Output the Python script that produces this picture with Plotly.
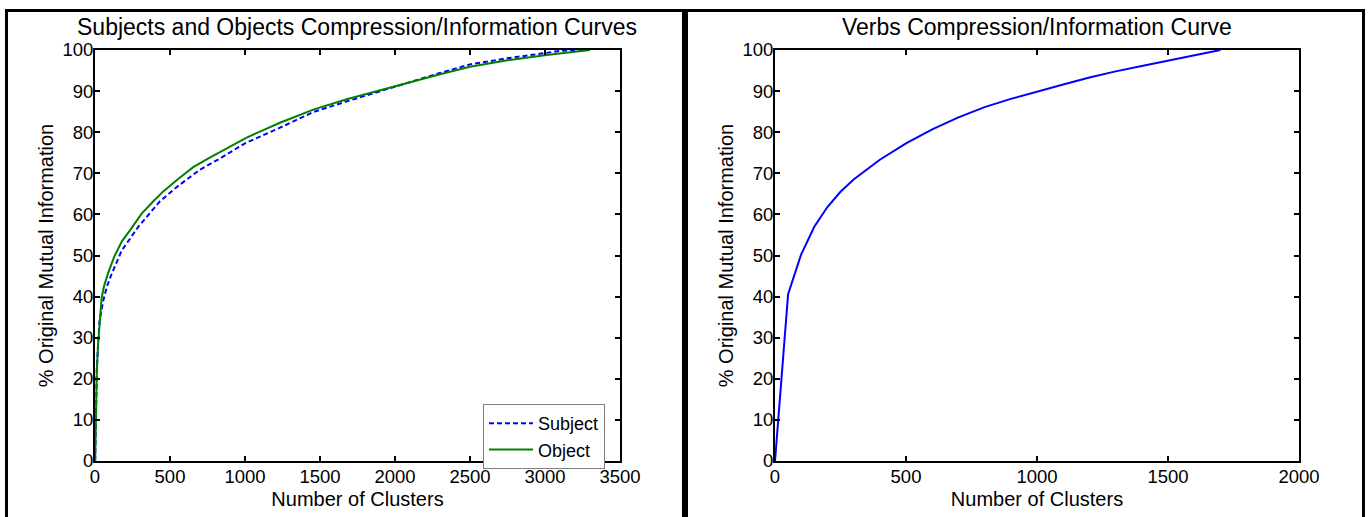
import plotly.graph_objects as go

# ---- data ----
subj_x = [1, 3, 7, 12, 20, 30, 55, 80, 111, 178, 289, 433, 550, 700, 833, 1000,
          1233, 1455, 1678, 1900, 2100, 2300, 2500, 2750, 3011, 3100, 3200, 3300]
subj_y = [0, 6, 15, 22, 28, 34, 39, 42.5, 45.5, 51.2, 57.0, 63.2, 66.8, 70.9, 73.6, 77.3,
          81.1, 84.9, 87.5, 90.0, 92.3, 94.4, 96.5, 98.0, 99.3, 99.8, 100, 100]

obj_x = [1, 3, 7, 12, 20, 30, 44, 60, 89, 129, 180, 233, 311, 389, 455, 550, 655, 750,
         833, 1011, 1233, 1455, 1678, 1900, 2100, 2300, 2500, 2750, 3011, 3150, 3300]
obj_y = [0, 6, 15, 22, 28, 34, 39.6, 42.5, 45.9, 49.8, 53.5, 56.1, 60.2, 63.2, 65.6, 68.5,
         71.5, 73.5, 75.2, 78.7, 82.3, 85.5, 88.0, 90.2, 92.2, 94.1, 95.9, 97.5, 98.8, 99.4, 100]

verb_x = [0, 50, 100, 150, 200, 250, 300, 400, 500, 600, 700, 800, 900, 1000, 1100,
          1200, 1300, 1400, 1500, 1600, 1700]
verb_y = [0, 40.6, 50.3, 57, 61.8, 65.5, 68.5, 73.3, 77.3, 80.7, 83.6, 86.1, 88.1, 89.9,
          91.6, 93.3, 94.8, 96.1, 97.4, 98.7, 100]

left_title = "Subjects and Objects Compression/Information Curves"
right_title = "Verbs Compression/Information Curve"
x_label = "Number of Clusters"
y_label = "% Original Mutual Information"
left_xticks = [0, 500, 1000, 1500, 2000, 2500, 3000, 3500]
right_xticks = [0, 500, 1000, 1500, 2000]
yticks = [0, 10, 20, 30, 40, 50, 60, 70, 80, 90, 100]

W, H = 1370, 517
FONT = "Liberation Sans, Arial, sans-serif"

fig = go.Figure()
fig.add_trace(go.Scatter(x=subj_x, y=subj_y, mode="lines", name="Subject",
                         line=dict(color="#0000FF", width=2, dash="5px,3px"),
                         xaxis="x", yaxis="y"))
fig.add_trace(go.Scatter(x=obj_x, y=obj_y, mode="lines", name="Object",
                         line=dict(color="#008000", width=2),
                         xaxis="x", yaxis="y"))
fig.add_trace(go.Scatter(x=verb_x, y=verb_y, mode="lines", name="Verb",
                         line=dict(color="#0000FF", width=2), showlegend=False,
                         xaxis="x2", yaxis="y2"))

def px_x(p):
    return p / W

def px_y(p):
    return 1 - p / H

axis_common = dict(showline=True, linecolor="black", linewidth=2, mirror="ticks",
                   ticks="inside", ticklen=5, tickwidth=1.5, tickcolor="black",
                   showgrid=False, zeroline=False, automargin=False,
                   tickfont=dict(family=FONT, size=18.5, color="black"),
                   title_font=dict(family=FONT, size=20, color="black"))

yd = [px_y(461), px_y(50)]
fig.update_layout(
    width=W, height=H, autosize=False,
    margin=dict(l=0, r=0, t=0, b=0, pad=0, autoexpand=False),
    paper_bgcolor="white", plot_bgcolor="white",
    font=dict(family=FONT, color="black"),
    xaxis=dict(domain=[px_x(95), px_x(620)], range=[0, 3500], tickvals=left_xticks,
               anchor="y", ticklabelstandoff=-2,
               title=dict(text=x_label, standoff=6), **axis_common),
    yaxis=dict(domain=yd, range=[0, 100], tickvals=yticks, anchor="x",
               ticklabelstandoff=-4,
               title=dict(text=y_label, standoff=3), **axis_common),
    xaxis2=dict(domain=[px_x(775), px_x(1299)], range=[0, 2000], tickvals=right_xticks,
                anchor="y2", ticklabelstandoff=-2,
                title=dict(text=x_label, standoff=6), **axis_common),
    yaxis2=dict(domain=yd, range=[0, 100], tickvals=yticks, anchor="x2",
                ticklabelstandoff=-4,
                title=dict(text=y_label, standoff=3), **axis_common),
    legend=dict(x=px_x(483), y=px_y(404), xanchor="left", yanchor="top",
                bgcolor="white", bordercolor="#808080", borderwidth=1,
                font=dict(family=FONT, size=18, color="black"),
                tracegroupgap=0, itemwidth=44,
                entrywidth=128, entrywidthmode="pixels"),
    showlegend=True,
)

fig.add_annotation(text=left_title, x=px_x(357), y=px_y(27), xref="paper", yref="paper",
                   showarrow=False, xanchor="center", yanchor="middle",
                   font=dict(family=FONT, size=23, color="black"))
fig.add_annotation(text=right_title, x=px_x(1037), y=px_y(27), xref="paper", yref="paper",
                   showarrow=False, xanchor="center", yanchor="middle",
                   font=dict(family=FONT, size=23, color="black"))

# outer frame of the two panels
frame = [(5, 9, 1365, 12), (5, 9, 8, 517), (682, 9, 688, 517), (1362, 9, 1365, 517)]
for x0, y0, x1, y1 in frame:
    fig.add_shape(type="rect", xref="paper", yref="paper",
                  x0=px_x(x0), x1=px_x(x1), y0=px_y(y1), y1=px_y(y0),
                  fillcolor="black", line=dict(width=0), layer="above")

fig.write_html("out.html", config=dict(displayModeBar=False),
               post_script="document.body.style.margin='0';document.body.style.overflow='hidden';")
